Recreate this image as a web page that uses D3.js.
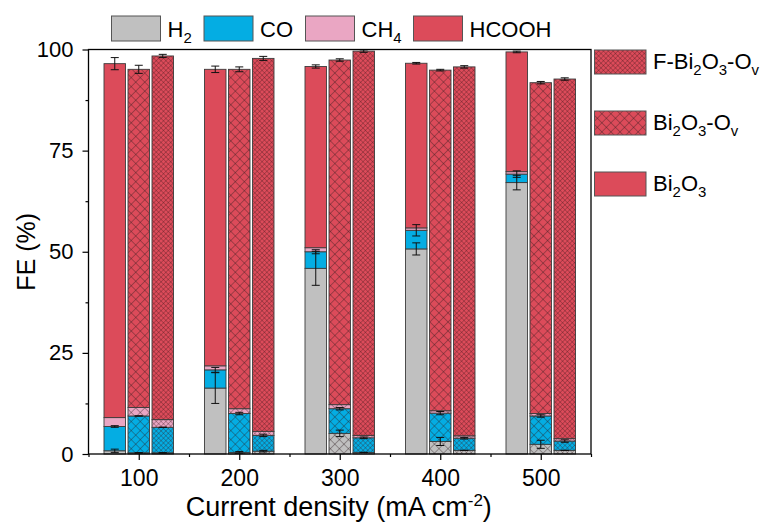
<!DOCTYPE html>
<html>
<head>
<meta charset="utf-8">
<script src="https://cdn.jsdelivr.net/npm/d3@7"></script>
<style>
  html, body { margin: 0; padding: 0; background: #fff; }
  svg { display: block; font-family: "Liberation Sans", Arial, sans-serif; }
</style>
</head>
<body>
<svg id="chart" width="766" height="523"></svg>
<script>
// Current densities (mA cm-2)
const densities = [100, 200, 300, 400, 500];
const catalysts = ["Bi2O3", "Bi2O3-Ov", "F-Bi2O3-Ov"];
const products = ["H2", "CO", "CH4", "HCOOH"];

// Faradaic efficiencies (%) for each catalyst, one value per current density
const h2_Bi2O3    = [0.8, 16.3, 45.9, 50.7, 67.1];
const co_Bi2O3    = [6.0, 4.5, 4.1, 4.6, 2.1];
const ch4_Bi2O3   = [2.2, 1.0, 1.0, 0.6, 0.6];
const hcooh_Bi2O3 = [87.5, 73.3, 44.8, 40.7, 29.6];

const h2_Ov    = [0.3, 0.4, 5.1, 3.1, 2.4];
const co_Ov    = [9.1, 9.6, 6.1, 7.0, 7.0];
const ch4_Ov   = [2.1, 1.2, 1.0, 0.6, 0.6];
const hcooh_Ov = [83.6, 83.9, 85.2, 84.2, 81.8];

const h2_F    = [0.3, 0.7, 0.4, 0.9, 0.9];
const co_F    = [6.3, 3.9, 3.6, 3.0, 2.3];
const ch4_F   = [1.9, 1.0, 0.6, 0.6, 0.6];
const hcooh_F = [89.9, 92.2, 95.0, 91.2, 88.9];

// Error bars (±, %) at the top of H2, the top of CO and the top of the stack
const errH2_Bi2O3  = [0.4, 3.8, 4.2, 1.5, 1.8];
const errCO_Bi2O3  = [0.2, 0.6, 0.5, 1.4, 0.8];
const errTot_Bi2O3 = [1.5, 0.8, 0.4, 0.2, 0.2];
const errH2_Ov  = [0.0, 0.2, 0.8, 1.0, 1.0];
const errCO_Ov  = [0.0, 0.3, 0.3, 0.4, 0.3];
const errTot_Ov = [1.0, 0.6, 0.3, 0.2, 0.3];
const errH2_F  = [0.0, 0.2, 0.0, 0.0, 0.0];
const errCO_F  = [0.0, 0.3, 0.2, 0.2, 0.3];
const errTot_F = [0.4, 0.5, 0.3, 0.3, 0.3];

const yTicks = [0, 25, 50, 75, 100];
const yMinor = [12.5, 37.5, 62.5, 87.5];
const xMinor = [50, 150, 250, 350, 450, 550];

const colors = { H2: "#c0c0c0", CO: "#04ade3", CH4: "#eaa6c3", HCOOH: "#dc4b5a" };
const hatch = { "Bi2O3": null, "Bi2O3-Ov": 6.4, "F-Bi2O3-Ov": 3.4 };

const series = {
  "Bi2O3":      { H2: h2_Bi2O3, CO: co_Bi2O3, CH4: ch4_Bi2O3, HCOOH: hcooh_Bi2O3,
                  eH2: errH2_Bi2O3, eCO: errCO_Bi2O3, eTot: errTot_Bi2O3 },
  "Bi2O3-Ov":   { H2: h2_Ov, CO: co_Ov, CH4: ch4_Ov, HCOOH: hcooh_Ov,
                  eH2: errH2_Ov, eCO: errCO_Ov, eTot: errTot_Ov },
  "F-Bi2O3-Ov": { H2: h2_F, CO: co_F, CH4: ch4_F, HCOOH: hcooh_F,
                  eH2: errH2_F, eCO: errCO_F, eTot: errTot_F }
};

const svg = d3.select("#chart");
const plot = { left: 88.5, right: 591, top: 49.5, bottom: 454 };

const x = d3.scaleLinear().domain([50, 550]).range([plot.left, plot.right]);
const y = d3.scaleLinear().domain([0, 100]).range([plot.bottom, plot.top]);
const xInner = d3.scaleBand().domain(catalysts).range([-34.75, 34.75]).paddingInner(0.104);

// Hatch patterns: a cross grid rotated by 45 degrees over the product colour
const defs = svg.append("defs");
function patternId(cat, prod) { return "p-" + catalysts.indexOf(cat) + "-" + prod; }
catalysts.forEach(cat => {
  const s = hatch[cat];
  if (!s) return;
  products.forEach(prod => {
    const p = defs.append("pattern")
      .attr("id", patternId(cat, prod))
      .attr("patternUnits", "userSpaceOnUse")
      .attr("width", s).attr("height", s)
      .attr("patternTransform", "rotate(45)");
    p.append("rect").attr("width", s).attr("height", s).attr("fill", colors[prod]);
    p.append("path")
      .attr("d", `M0,0H${s}M0,0V${s}`)
      .attr("stroke", s < 5 ? "#3a1418" : "#2a1a1c")
      .attr("stroke-width", s < 5 ? 0.75 : 0.8)
      .attr("stroke-opacity", s < 5 ? 0.75 : 0.85)
      .attr("fill", "none");
  });
});
function fillFor(cat, prod) {
  return hatch[cat] ? `url(#${patternId(cat, prod)})` : colors[prod];
}

// Stacked bars
const g = svg.append("g");
catalysts.forEach(cat => {
  const d = series[cat];
  densities.forEach((dens, i) => {
    let base = 0;
    const bx = x(dens) + xInner(cat);
    products.forEach(prod => {
      const v = d[prod][i];
      g.append("rect")
        .attr("x", bx)
        .attr("width", xInner.bandwidth())
        .attr("y", y(base + v))
        .attr("height", y(base) - y(base + v))
        .attr("fill", fillFor(cat, prod))
        .attr("stroke", "#3c3c3c")
        .attr("stroke-width", 0.9);
      base += v;
    });
  });
});

// Error bars
const eb = svg.append("g").attr("stroke", "#111").attr("stroke-width", 1).attr("fill", "none");
catalysts.forEach(cat => {
  const d = series[cat];
  densities.forEach((dens, i) => {
    const cx = x(dens) + xInner(cat) + xInner.bandwidth() / 2;
    const h2Top = d.H2[i];
    const coTop = d.H2[i] + d.CO[i];
    const tot = d.H2[i] + d.CO[i] + d.CH4[i] + d.HCOOH[i];
    [[h2Top, d.eH2[i]], [coTop, d.eCO[i]], [tot, d.eTot[i]]].forEach(([v, e]) => {
      const y0 = y(v - e), y1 = y(v + e);
      eb.append("path")
        .attr("d", `M${cx - 4},${y0}H${cx + 4}M${cx},${y0}V${y1}M${cx - 4},${y1}H${cx + 4}`);
    });
  });
});

// Frame
svg.append("rect")
  .attr("x", plot.left).attr("y", plot.top)
  .attr("width", plot.right - plot.left).attr("height", plot.bottom - plot.top)
  .attr("fill", "none").attr("stroke", "#000").attr("stroke-width", 1.3);

// Axes
const yAxis = svg.append("g").attr("transform", `translate(${plot.left},0)`)
  .call(d3.axisLeft(y).tickValues(yTicks).tickSize(6).tickPadding(9).tickSizeOuter(0));
const yMinorAxis = svg.append("g").attr("transform", `translate(${plot.left},0)`)
  .call(d3.axisLeft(y).tickValues(yMinor).tickSize(3).tickFormat("").tickSizeOuter(0));
const xAxis = svg.append("g").attr("transform", `translate(0,${plot.bottom})`)
  .call(d3.axisBottom(x).tickValues(densities).tickSize(6).tickPadding(10).tickSizeOuter(0));
const xMinorAxis = svg.append("g").attr("transform", `translate(0,${plot.bottom})`)
  .call(d3.axisBottom(x).tickValues(xMinor).tickSize(3).tickFormat("").tickSizeOuter(0));
[yAxis, yMinorAxis, xAxis, xMinorAxis].forEach(a => {
  a.select(".domain").remove();
  a.selectAll("line").attr("stroke", "#000").attr("stroke-width", 1.2);
  a.selectAll("text").attr("font-family", "Liberation Sans, Arial, sans-serif").attr("fill", "#000");
});
yAxis.selectAll("text").attr("font-size", 22);
xAxis.selectAll("text").attr("font-size", 23);

// Axis titles
svg.append("text")
  .attr("transform", `translate(35,${(plot.top + plot.bottom) / 2}) rotate(-90)`)
  .attr("text-anchor", "middle")
  .attr("font-size", 25)
  .text("FE (%)");
const xt = svg.append("text")
  .attr("x", (plot.left + plot.right) / 2 - 1)
  .attr("y", 516)
  .attr("text-anchor", "middle")
  .attr("font-size", 27);
xt.append("tspan").text("Current density (mA cm");
xt.append("tspan").attr("font-size", 17).attr("dy", -10).text("-2");
xt.append("tspan").attr("dy", 10).text(")");

// Helper for labels with subscripts: parts are [text, isSub]
function richText(sel, parts, size) {
  parts.forEach(([t, sub], k) => {
    const prevSub = k > 0 && parts[k - 1][1];
    const ts = sel.append("tspan").text(t);
    if (sub) ts.attr("font-size", size * 0.68).attr("dy", prevSub ? 0 : 6);
    else if (prevSub) ts.attr("dy", -6);
  });
}

// Product legend along the top
const prodLabels = {
  H2: [["H", false], ["2", true]],
  CO: [["CO", false]],
  CH4: [["CH", false], ["4", true]],
  HCOOH: [["HCOOH", false]]
};
const legendX = [111.5, 204, 305.5, 413.5];
products.forEach((prod, k) => {
  svg.append("rect")
    .attr("x", legendX[k]).attr("y", 16)
    .attr("width", 49).attr("height", 25)
    .attr("fill", colors[prod]).attr("stroke", "#555").attr("stroke-width", 1);
  const t = svg.append("text")
    .attr("x", legendX[k] + 56).attr("y", 36.5)
    .attr("font-size", 22);
  richText(t, prodLabels[prod], 22);
});

// Catalyst legend on the right
const catLabels = {
  "F-Bi2O3-Ov": [["F-Bi", false], ["2", true], ["O", false], ["3", true], ["-O", false], ["v", true]],
  "Bi2O3-Ov": [["Bi", false], ["2", true], ["O", false], ["3", true], ["-O", false], ["v", true]],
  "Bi2O3": [["Bi", false], ["2", true], ["O", false], ["3", true]]
};
const catOrder = ["F-Bi2O3-Ov", "Bi2O3-Ov", "Bi2O3"];
const catY = [50, 111, 172];
catOrder.forEach((cat, k) => {
  svg.append("rect")
    .attr("x", 594.5).attr("y", catY[k])
    .attr("width", 51.5).attr("height", 24)
    .attr("fill", fillFor(cat, "HCOOH")).attr("stroke", "#555").attr("stroke-width", 1);
  const t = svg.append("text")
    .attr("x", 653).attr("y", catY[k] + 19)
    .attr("font-size", 22);
  richText(t, catLabels[cat], 22);
});
</script>
</body>
</html>
